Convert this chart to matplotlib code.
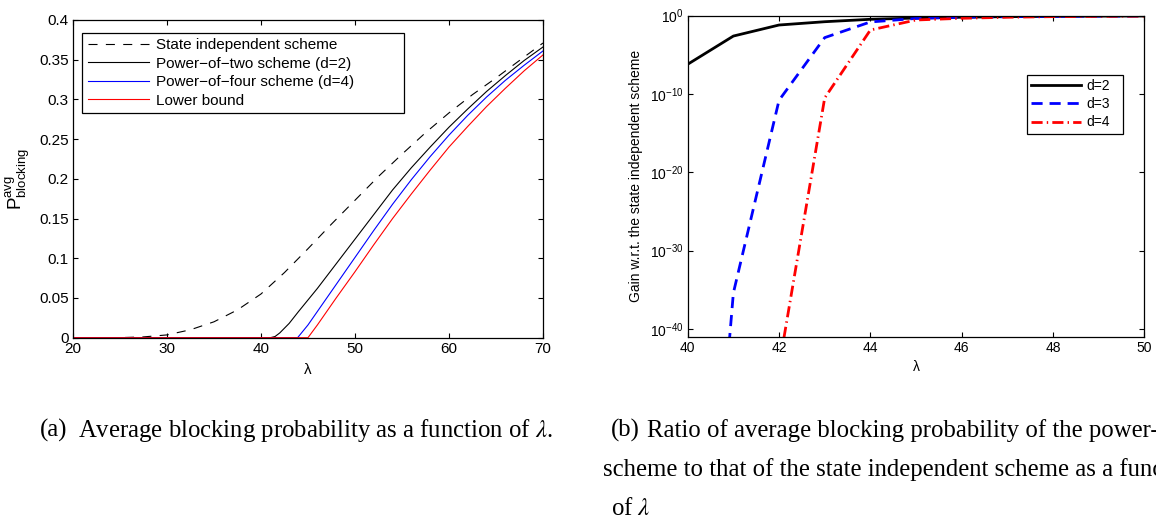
import matplotlib
matplotlib.use('Agg')
import matplotlib.pyplot as plt
import numpy as np
from matplotlib.ticker import FixedLocator, FuncFormatter, NullLocator

plt.rcParams['font.family'] = ['Liberation Sans', 'DejaVu Sans']
plt.rcParams['lines.scale_dashes'] = False

# (a) average blocking probability vs lambda
lam_si = [20, 22.5, 25, 27.5, 30, 32.5, 35, 37.5, 40, 42.5, 45, 47.5, 50, 52.5, 55,
          57.5, 60, 62.5, 65, 67.5, 70]
p_si = [0, 0, 0.0001, 0.001, 0.0035, 0.010, 0.020, 0.035, 0.055, 0.082, 0.112, 0.143,
        0.173, 0.203, 0.231, 0.258, 0.283, 0.306, 0.327, 0.349, 0.371]

lam_two = [20, 41, 41.5, 42, 43, 44, 46, 48, 50, 52, 54, 56, 58, 60, 62, 64, 66, 68, 70]
p_two = [0, 0, 0.0015, 0.006, 0.018, 0.033, 0.062, 0.093, 0.124, 0.155, 0.186, 0.214,
         0.240, 0.265, 0.288, 0.310, 0.330, 0.349, 0.366]

lam_four = [20, 43.9, 44, 45, 46, 47, 48, 50, 52, 54, 56, 58, 60, 62, 64, 66, 68, 70]
p_four = [0, 0, 0.0015, 0.016, 0.033, 0.050, 0.067, 0.101, 0.135, 0.168, 0.199, 0.228,
          0.255, 0.280, 0.303, 0.324, 0.343, 0.361]

lam_lb = [20, 45, 46, 47, 48, 50, 52, 54, 56, 58, 60, 62, 64, 66, 68, 70]
p_lb = [0, 0, 0.016, 0.033, 0.050, 0.083, 0.117, 0.150, 0.181, 0.211, 0.240, 0.266,
        0.291, 0.314, 0.336, 0.356]

# (b) gain w.r.t. state independent scheme (log10 of ratio)
lam_gain = [40, 41, 42, 43, 44, 45, 46, 47, 48, 49, 50]
log_d2 = [-6.2, -2.6, -1.19, -0.77, -0.46, -0.30, -0.20, -0.12, -0.08, -0.05, -0.03]
log_d3 = [-105, -35.4, -10.8, -2.8, -0.80, -0.35, -0.20, -0.12, -0.08, -0.05, -0.03]
log_d4 = [-160, -100, -44.8, -10.5, -1.83, -0.55, -0.33, -0.20, -0.12, -0.08, -0.05]

fig = plt.figure(figsize=(11.56, 5.23), dpi=100)
W, H = 1156, 523

# ---- left panel
ax1 = fig.add_axes([0.0631, 0.3543, 0.4066, 0.6075])
ax1.plot(lam_si, p_si, color='black', lw=0.8, linestyle=(0, (6.5, 6)),
         label='State independent scheme')
ax1.plot(lam_two, p_two, color='black', lw=0.8, label='Power\u2212of\u2212two scheme (d=2)')
ax1.plot(lam_four, p_four, color='blue', lw=0.8, label='Power\u2212of\u2212four scheme (d=4)')
ax1.plot(lam_lb, p_lb, color='red', lw=0.8, label='Lower bound')
ax1.set_xlim(20, 70)
ax1.set_ylim(0, 0.4)
ax1.set_xticks(np.arange(20, 71, 10))
ax1.set_yticks(np.arange(0, 0.401, 0.05))
ax1.yaxis.set_major_formatter(FuncFormatter(lambda v, p: '%g' % round(v, 2)))
ax1.tick_params(direction='in', top=True, right=True, length=3.5, width=0.8,
                labelsize=11, pad=3)
ax1.set_xlabel('\u03bb', fontsize=11)
ax1.xaxis.set_label_coords(0.5, -0.081)
ax1.set_ylabel(r'$\mathregular{P^{avg}_{blocking}}$', fontsize=13.5)
ax1.yaxis.set_label_coords(-0.087, 0.5)
for s in ax1.spines.values():
    s.set_linewidth(0.9)
leg1 = ax1.legend(loc='upper left', bbox_to_anchor=(0.0198, 0.96, 0.6845, 0.0),
                  mode='expand', borderaxespad=0,
                  fontsize=11, handlelength=4, handletextpad=0.5, labelspacing=0.3,
                  borderpad=0.35, fancybox=False, framealpha=1, edgecolor='black')
leg1.get_frame().set_linewidth(0.9)

# ---- right panel
ax2 = fig.add_axes([0.5949, 0.3562, 0.3950, 0.6138])
ax2.plot(lam_gain, np.power(10.0, log_d2), color='black', lw=2, label='d=2')
ax2.plot(lam_gain, np.power(10.0, log_d3), color='blue', lw=2,
         linestyle=(0, (8, 5)), label='d=3')
ax2.plot(lam_gain, np.power(10.0, log_d4), color='red', lw=2,
         linestyle=(0, (8, 3, 1, 3)), label='d=4')
ax2.set_yscale('log')
ax2.set_xlim(40, 50)
ax2.set_ylim(10 ** -40.98, 1)
ax2.set_xticks(np.arange(40, 51, 2))
ax2.yaxis.set_major_locator(FixedLocator([1e-40, 1e-30, 1e-20, 1e-10, 1e0]))
ax2.yaxis.set_minor_locator(NullLocator())
ax2.yaxis.set_major_formatter(
    FuncFormatter(lambda v, p: r'$\mathregular{10^{%d}}$' % round(np.log10(v))))
ax2.tick_params(direction='in', top=True, right=True, length=3.5, width=0.8,
                labelsize=10, pad=3)
ax2.set_xlabel('\u03bb', fontsize=10)
ax2.xaxis.set_label_coords(0.5, -0.0726)
ax2.set_ylabel('Gain w.r.t. the state independent scheme', fontsize=10)
ax2.yaxis.set_label_coords(-0.097, 0.5)
for s in ax2.spines.values():
    s.set_linewidth(0.9)
leg2 = ax2.legend(loc='upper right', bbox_to_anchor=(0.7433, 0.8153, 0.2094, 0.0),
                  mode='expand', borderaxespad=0,
                  fontsize=10, handlelength=3.6, handletextpad=0.4, labelspacing=0.3,
                  borderpad=0.3, fancybox=False, framealpha=1, edgecolor='black')
leg2.get_frame().set_linewidth(0.9)

# ---- captions (serif, like the paper; text past the right edge is cut off as in the source)
cap = dict(family='Liberation Serif', fontsize=17.8, va='baseline', math_fontfamily='stix')
fig.text(40 / W, 1 - 437 / H, '(a)', **cap)
fig.text(78 / W, 1 - 437 / H, r'Average blocking probability as a function of $\lambda$.', **cap)
fig.text(611 / W, 1 - 437 / H, '(b)', **cap)
fig.text(647 / W, 1 - 437 / H, 'Ratio of average blocking probability of the power-of-d', **cap)
fig.text(603 / W, 1 - 476 / H, 'scheme to that of the state independent scheme as a function', **cap)
fig.text(611 / W, 1 - 515 / H, r'of $\lambda$', **cap)

fig.savefig('out.png', dpi=100)
